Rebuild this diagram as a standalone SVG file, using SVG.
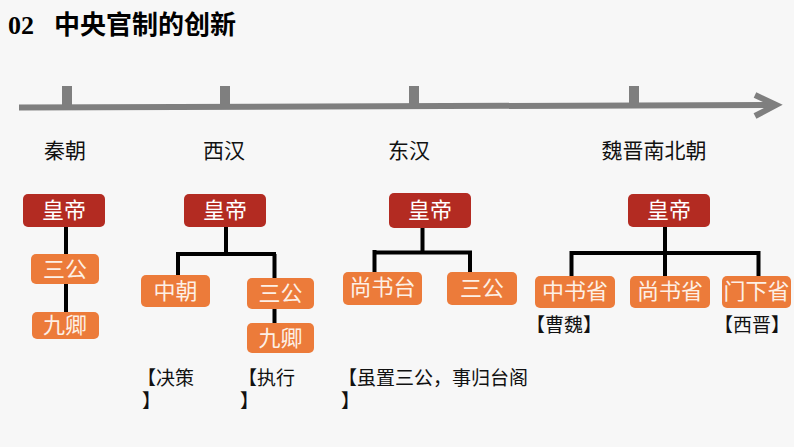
<svg xmlns="http://www.w3.org/2000/svg" width="794" height="447" viewBox="0 0 794 447">
<style>
.bg{fill:#f7f7f7}
.tl{stroke:#7f7f7f;stroke-width:6;fill:none;stroke-linecap:butt}
.tick{fill:#7f7f7f}
.emp{fill:#b32b22}
.off{fill:#ec7b3a}
.t{font-family:"Noto Sans CJK SC","Noto Sans",sans-serif;text-anchor:middle}
.w{fill:#ffffff;font-size:22px}
.o{fill:#fdf0e6}
.era{fill:#111;font-size:21px}
.note{fill:#111;font-size:19px;font-family:"Noto Sans CJK SC",sans-serif}
.con{stroke:#000;stroke-width:4;fill:none}
</style>
<rect class="bg" x="0" y="0" width="794" height="447"/>
<g id="title">
<text x="8" y="34" font-family="Liberation Serif,serif" font-weight="bold" font-size="26" fill="#000">02</text>
<text x="54" y="34" font-family="Noto Sans CJK SC,sans-serif" font-weight="bold" font-size="26" fill="#000">中央官制的创新</text>
</g>
<g id="timeline">
<path class="tl" d="M19 107.5 L774 105"/>
<path class="tl" d="M755 95 L776 105 L755 116" stroke-linecap="round" stroke-linejoin="miter"/>
<rect class="tick" x="62" y="86" width="10" height="20"/>
<rect class="tick" x="220" y="86" width="10" height="20"/>
<rect class="tick" x="409" y="86" width="10" height="19"/>
<rect class="tick" x="629" y="86" width="10" height="19"/>
</g>
<g id="eras">
<text class="t era" x="65" y="158">秦朝</text>
<text class="t era" x="224" y="158">西汉</text>
<text class="t era" x="409" y="158">东汉</text>
<text class="t era" x="654" y="158" font-size="22">魏晋南北朝</text>
</g>
<g id="connectors">
<path class="con" d="M66 227 V312"/>
<path class="con" d="M226 227 V254 M178 254 H276 M178 252 V275 M274.5 254 V278 M274.5 309 V323"/>
<path class="con" d="M422.5 228 V252.5 M374.5 252.5 H472 M374.5 250 V272 M470 252.5 V272"/>
<path class="con" d="M665 227 V276 M571.5 253 H760 M571.5 251 V276 M758.5 251 V276"/>
</g>
<g id="qin-emperor"><rect class="emp" x="23" y="194" width="82" height="33" rx="5"/><text class="t w" x="64" y="218">皇帝</text></g>
<g id="qin-sangong"><rect class="off" x="31" y="254" width="68" height="30" rx="5"/><text class="t w o" x="65" y="277" font-size="21">三公</text></g>
<g id="qin-jiuqing"><rect class="off" x="32" y="312" width="67" height="27" rx="5"/><text class="t w o" x="65" y="333" font-size="21">九卿</text></g>
<g id="xh-emperor"><rect class="emp" x="184" y="194" width="82" height="33" rx="5"/><text class="t w" x="225" y="218">皇帝</text></g>
<g id="xh-zhongchao"><rect class="off" x="141" y="275" width="69" height="32" rx="5"/><text class="t w o" x="175.5" y="299" font-size="21">中朝</text></g>
<g id="xh-sangong"><rect class="off" x="247" y="278" width="67" height="31" rx="5"/><text class="t w o" x="280.5" y="301" font-size="21">三公</text></g>
<g id="xh-jiuqing"><rect class="off" x="247" y="323" width="67" height="30" rx="5"/><text class="t w o" x="280.5" y="346" font-size="21">九卿</text></g>
<g id="dh-emperor"><rect class="emp" x="389" y="193" width="82" height="35" rx="5"/><text class="t w" x="430" y="218">皇帝</text></g>
<g id="dh-shangshutai"><rect class="off" x="343" y="272" width="79" height="33" rx="5"/><text class="t w o" x="382.5" y="295" font-size="19">尚书台</text></g>
<g id="dh-sangong"><rect class="off" x="447" y="272" width="70" height="33" rx="5"/><text class="t w o" x="482" y="296" font-size="21">三公</text></g>
<g id="wj-emperor"><rect class="emp" x="628" y="194" width="82" height="33" rx="5"/><text class="t w" x="669" y="218">皇帝</text></g>
<g id="wj-zhongshu"><rect class="off" x="535" y="276" width="80" height="32" rx="5"/><text class="t w o" x="575" y="299" font-size="19">中书省</text></g>
<g id="wj-shangshu"><rect class="off" x="630" y="276" width="80" height="32" rx="5"/><text class="t w o" x="670" y="299" font-size="19">尚书省</text></g>
<g id="wj-menxia"><rect class="off" x="722" y="276" width="69" height="32" rx="5"/><text class="t w o" x="756.5" y="299" font-size="19">门下省</text></g>
<g id="notes">
<text class="note" x="526" y="332">【曹魏】</text>
<text class="note" x="714" y="332">【西晋】</text>
<text class="note"><tspan x="137" y="385">【决策</tspan><tspan x="142" y="408">】</tspan></text>
<text class="note"><tspan x="238" y="385">【执行</tspan><tspan x="240" y="408">】</tspan></text>
<text class="note"><tspan x="338" y="385">【虽置三公，事归台阁</tspan><tspan x="341" y="408">】</tspan></text>
</g>
</svg>
